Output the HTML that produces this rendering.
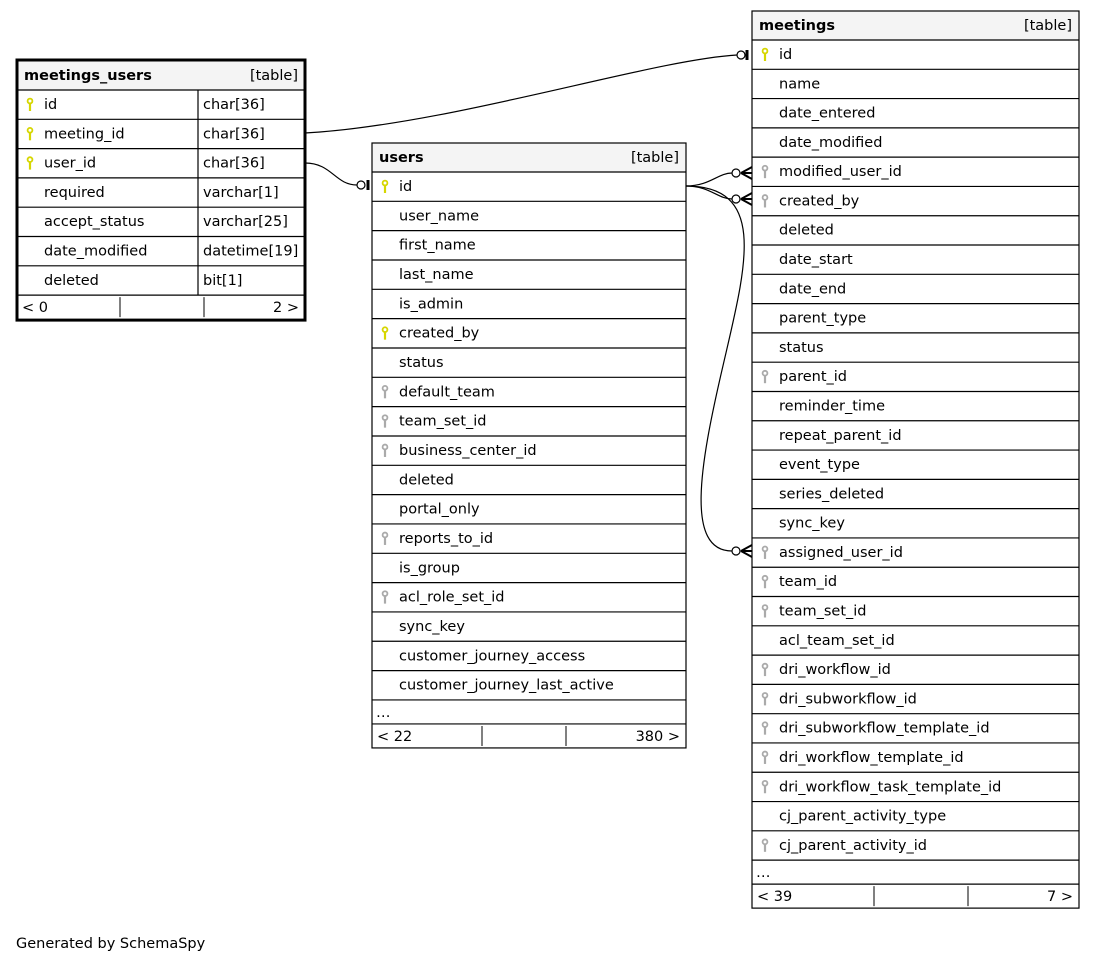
<!DOCTYPE html>
<html><head><meta charset="utf-8"><style>
html,body{margin:0;padding:0;background:#fff;width:1095px;height:964px;overflow:hidden}
text{font-family:"DejaVu Sans","Liberation Sans",sans-serif;font-size:14.5px;fill:#000}
</style></head><body>
<svg id="s" width="1095" height="964" xmlns="http://www.w3.org/2000/svg">
<g fill="none" stroke="#000" stroke-width="1.2">
<path d="M305,133 C450,125 650,60 737,55"/>
<path d="M305,163 C332,163 335,185 357,185"/>
<path d="M686,186 C710,186 718,173 732,173"/>
<path d="M686,186 C710,186 718,199 732,199"/>
<path d="M686,186 C770,186 745,270 722,370 C700,465 685,551 732,551"/>
<circle cx="741" cy="55" r="4" fill="#fff"/><line x1="747" y1="50" x2="747" y2="60" stroke-width="3"/>
<circle cx="361" cy="185" r="4" fill="#fff"/><line x1="368" y1="180" x2="368" y2="190" stroke-width="3"/>
<circle cx="736" cy="173" r="4" fill="#fff"/><path d="M741,173 L752,167 M741,173 L752,173 M741,173 L752,179" stroke-width="2"/>
<circle cx="736" cy="199" r="4" fill="#fff"/><path d="M741,199 L752,193 M741,199 L752,199 M741,199 L752,205" stroke-width="2"/>
<circle cx="736" cy="551" r="4" fill="#fff"/><path d="M741,551 L752,545 M741,551 L752,551 M741,551 L752,557" stroke-width="2"/>
</g>
<text x="16" y="948">Generated by SchemaSpy</text>
</svg>
<script>
var s=document.getElementById('s'),NS='http://www.w3.org/2000/svg';
function el(t,a,txt){var e=document.createElementNS(NS,t);for(var k in a)e.setAttribute(k,a[k]);if(txt!=null)e.textContent=txt;s.appendChild(e);return e;}
function key(x,y,c){el('circle',{cx:x,cy:y-4,r:2.4,fill:'none',stroke:c,'stroke-width':1.8});el('line',{x1:x,y1:y-2,x2:x,y2:y+6,stroke:c,'stroke-width':2.2});}
function table(L,R,T,name,rows,rh,colx,foot,d1,d2,more,thick){
 var hh=29;
 el('rect',{x:L,y:T,width:R-L,height:hh,fill:'#f4f4f4'});
 el('text',{x:L+7,y:T+19,'font-weight':'bold'},name);
 el('text',{x:R-7,y:T+19,'text-anchor':'end'},'[table]');
 var y=T+hh;
 el('line',{x1:L,y1:y,x2:R,y2:y,stroke:'#000','stroke-width':1.2});
 rows.forEach(function(r){
  if(r[1]==1)key(L+13,y+15,'#d6d600');else if(r[1]==2)key(L+13,y+15,'#aaa');
  el('text',{x:L+27,y:y+19},r[0]);
  if(colx){el('text',{x:colx+5,y:y+19},r[2]);}
  y+=rh;el('line',{x1:L,y1:y,x2:R,y2:y,stroke:'#000','stroke-width':1.2});
 });
 if(colx)el('line',{x1:colx,y1:T+hh,x2:colx,y2:y,stroke:'#000','stroke-width':1.2});
 if(more){el('text',{x:L+4,y:y+17},'…');y+=24;el('line',{x1:L,y1:y,x2:R,y2:y,stroke:'#000','stroke-width':1.2});}
 el('text',{x:L+5,y:y+17},foot[0]);el('text',{x:R-6,y:y+17,'text-anchor':'end'},foot[1]);
 el('line',{x1:d1,y1:y+2,x2:d1,y2:y+22,stroke:'#000'});el('line',{x1:d2,y1:y+2,x2:d2,y2:y+22,stroke:'#000'});
 y+=24;
 if(thick)y+=1;
 el('rect',{x:L,y:thick?T-1:T,width:R-L,height:y-T+(thick?1:0),fill:'none',stroke:'#000','stroke-width':thick?3:1.2});
}
table(17,305,61,'meetings_users',[['id',1,'char[36]'],['meeting_id',1,'char[36]'],['user_id',1,'char[36]'],['required',0,'varchar[1]'],['accept_status',0,'varchar[25]'],['date_modified',0,'datetime[19]'],['deleted',0,'bit[1]']],29.3,198,['< 0','2 >'],120,204,false,true);
table(372,686,143,'users',[['id',1],['user_name',0],['first_name',0],['last_name',0],['is_admin',0],['created_by',1],['status',0],['default_team',2],['team_set_id',2],['business_center_id',2],['deleted',0],['portal_only',0],['reports_to_id',2],['is_group',0],['acl_role_set_id',2],['sync_key',0],['customer_journey_access',0],['customer_journey_last_active',0]],29.33,0,['< 22','380 >'],482,566,true,false);
table(752,1079,11,'meetings',[['id',1],['name',0],['date_entered',0],['date_modified',0],['modified_user_id',2],['created_by',2],['deleted',0],['date_start',0],['date_end',0],['parent_type',0],['status',0],['parent_id',2],['reminder_time',0],['repeat_parent_id',0],['event_type',0],['series_deleted',0],['sync_key',0],['assigned_user_id',2],['team_id',2],['team_set_id',2],['acl_team_set_id',0],['dri_workflow_id',2],['dri_subworkflow_id',2],['dri_subworkflow_template_id',2],['dri_workflow_template_id',2],['dri_workflow_task_template_id',2],['cj_parent_activity_type',0],['cj_parent_activity_id',2]],29.29,0,['< 39','7 >'],874,968,true,false);
</script>
</body></html>
